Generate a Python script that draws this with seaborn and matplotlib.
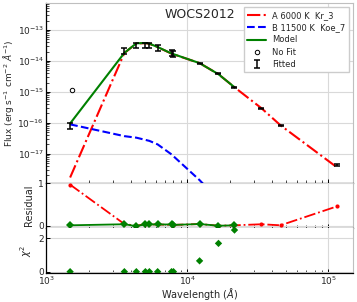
import numpy as np
import pandas as pd
import matplotlib
matplotlib.use("Agg")
import matplotlib.pyplot as plt
import seaborn as sns
from matplotlib.ticker import LogLocator, NullFormatter

# Photometric points (Angstrom) and fluxes (erg/s/cm2/A)
wave = [1481, 3590, 4365, 5060, 5400, 6180, 7750, 8000,
        12250, 16680, 21660, 33650, 45900, 116000]
flux_obs = [8.3e-17, 2.14e-14, 3.24e-14, 3.24e-14, 3.24e-14, 2.75e-14, 1.82e-14, 1.74e-14,
            8.5e-15, 3.98e-15, 1.41e-15, 2.95e-16, 8.3e-17, 4.2e-18]
flux_err = [1.8e-17, 5.0e-15, 7.0e-15, 7.0e-15, 7.0e-15, 6.0e-15, 4.0e-15, 3.8e-15,
            3.0e-16, 1.4e-16, 5.0e-17, 1.2e-17, 4.0e-18, 3.0e-19]

# Components
flux_A = [1.7e-18, 1.8e-14, 3.67e-14, 3.76e-14, 3.59e-14, 2.79e-14, 1.72e-14, 1.64e-14,
          8.5e-15, 3.72e-15, 1.41e-15, 2.95e-16, 8.3e-17, 3.55e-18]
wave_B = wave[:11]
flux_B = [8.9e-17, 3.7e-17, 3.3e-17, 2.8e-17, 2.6e-17, 2.0e-17, 9.5e-18, 8.3e-18,
          1.4e-18, 3.2e-19, 1.0e-19]
wave_model = wave[:11]
flux_model = [9.5e-17, 1.82e-14, 3.72e-14, 3.8e-14, 3.63e-14, 2.82e-14, 1.74e-14, 1.66e-14,
              8.5e-15, 3.72e-15, 1.41e-15]

# point not used in the fit
wave_nofit = [1535]
flux_nofit = [1.12e-15]

# residuals and chi2
res_A = [0.97, 0.04, 0.0, 0.04, 0.03, 0.03, 0.02, 0.02, 0.04, 0.0, 0.01, 0.035, 0.01, 0.46]
res_model = [0.01, 0.035, -0.01, 0.035, 0.03, 0.03, 0.03, 0.02, 0.04, 0.0, 0.01]
chi2 = [0, 0, 0, 0, 0, 0, 0, 0, 0.65, 1.7, 2.5]

flux_ticks = [1e-17, 1e-16, 1e-15, 1e-14, 1e-13]

sns.set_style("whitegrid")
plt.rcParams["font.family"] = ["DejaVu Sans"]

fig, axes = plt.subplots(3, 1, sharex=True, figsize=(3.57, 3.02), dpi=100,
                         gridspec_kw={"height_ratios": [4, 1, 1], "hspace": 0})
fig.subplots_adjust(left=0.129, right=0.989, top=0.989, bottom=0.096)
ax, ax_res, ax_chi = axes

for a in axes:
    a.set_xscale("log")
ax.set_yscale("log")

# SED panel
sns.lineplot(x=wave, y=flux_A, ax=ax, color="red", linestyle="-.", lw=1.5,
             label="A 6000 K  Kr_3", sort=False)
sns.lineplot(x=wave_B, y=flux_B, ax=ax, color="blue", linestyle="--", lw=1.5,
             label="B 11500 K  Koe_7", sort=False)
sns.lineplot(x=wave_model, y=flux_model, ax=ax, color="green", lw=1.5,
             label="Model", sort=False)
ax.plot(wave_nofit, flux_nofit, "o", mfc="none", mec="k", ms=3.2, mew=0.7,
        label="No Fit")
ax.errorbar(wave, flux_obs, yerr=flux_err, fmt="none", ecolor="k", elinewidth=1.1,
            capsize=2.2, capthick=1.1, label="Fitted", zorder=4)

ax.set_ylim(1.12e-18, 7.3e-13)
ax.set_yticks(flux_ticks)
ax.yaxis.set_minor_locator(LogLocator(base=10, subs=np.arange(2, 10), numticks=20))
ax.yaxis.set_minor_formatter(NullFormatter())
ax.set_ylabel("Flux (erg s$^{-1}$ cm$^{-2}$ $\\AA^{-1}$)", fontsize=6.5, labelpad=1)
ax.text(0.5, 0.94, "WOCS2012", transform=ax.transAxes, ha="center", va="center",
        fontsize=9)

h, l = ax.get_legend_handles_labels()
order = ["A 6000 K  Kr_3", "B 11500 K  Koe_7", "Model", "No Fit", "Fitted"]
hd = dict(zip(l, h))
ax.legend([hd[k] for k in order], order, loc="upper right", fontsize=6,
          handlelength=2.3, handletextpad=0.7, labelspacing=0.4,
          frameon=True, fancybox=False, edgecolor="0.8", framealpha=1)

# residual panel
sns.lineplot(x=wave, y=res_A, ax=ax_res, color="red", linestyle="-.", lw=1.3,
             marker="o", markersize=3, markeredgewidth=0, sort=False)
sns.lineplot(x=wave_model, y=res_model, ax=ax_res, color="green", lw=1.3,
             marker="D", markersize=3.6, markeredgewidth=0, sort=False)
ax_res.set_ylim(-0.055, 1.006)
ax_res.set_yticks([0, 1])
ax_res.set_ylabel("Residual", fontsize=7, labelpad=3)

# chi2 panel
sns.scatterplot(x=wave_model, y=chi2, ax=ax_chi, color="green", marker="D", s=14,
                edgecolor="none", zorder=3)
ax_chi.set_ylim(-0.08, 2.62)
ax_chi.set_yticks([0, 2])
ax_chi.set_ylabel("$\\chi^2$", fontsize=7, labelpad=3)

ax_chi.set_xlim(1e3, 1.5e5)
ax_chi.set_xlabel("Wavelength ($\\AA$)", fontsize=7)
ax_chi.xaxis.set_label_coords(0.5, -0.29)

for a in axes:
    a.grid(True, which="major", color="0.85", lw=0.8)
    a.grid(False, which="minor")
    a.tick_params(which="both", direction="in", bottom=True, left=True,
                  labelsize=6.5, color="k", pad=1.5)
    a.tick_params(which="major", length=3, width=0.7)
    a.tick_params(which="minor", length=2, width=0.5)
    for s in ["left", "bottom"]:
        a.spines[s].set_color("k")
        a.spines[s].set_linewidth(0.9)
    for s in ["top", "right"]:
        a.spines[s].set_color("0.75")
        a.spines[s].set_linewidth(0.8)
for a in (ax_res, ax_chi):
    a.spines["top"].set_visible(False)

fig.align_ylabels([ax_res, ax_chi])
fig.savefig("out.png", dpi=100)
